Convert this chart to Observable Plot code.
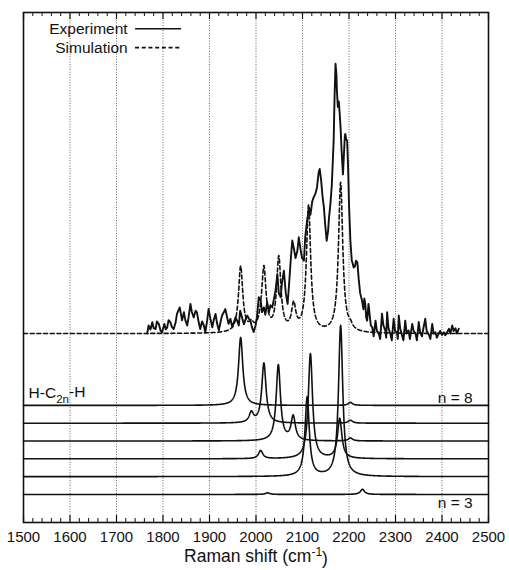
<!DOCTYPE html>
<html>
<head>
<meta charset="utf-8">
<script src="https://cdn.jsdelivr.net/npm/d3@7"></script>
<script src="https://cdn.jsdelivr.net/npm/@observablehq/plot@0.6"></script>
<style>
  html, body { margin: 0; padding: 0; background: #fff; }
  #chart svg { display: block; }
</style>
</head>
<body>
<div id="chart"></div>
<script>
// Raman shift axis (cm-1)
const xDomain = [1500, 2500];
const yDomain = [0, 189];
const majorTicks = d3.range(1500, 2501, 100);
const minorTicks = d3.range(1500, 2501, 20).filter(v => v % 100 !== 0);
const gridLines = d3.range(1600, 2401, 100);

// Baselines of the stacked traces (intensity units)
const spectrumOffset = 70;
const chainN = [8, 7, 6, 5, 4, 3];
const chainOffsets = [43.4, 36.8, 30.2, 23.6, 17.0, 10.4];

// Lorentzian half width at half maximum (cm-1)
const bandHalfWidth = 5.5;

// Measured spectrum: [Raman shift, intensity above baseline]
const experiment = [
  [1766, 0], [1769, 3.0], [1773, 1.5], [1777, 4.2], [1780, 2.0], [1784, 1.7], [1787, 4.5],
  [1791, 3.6], [1795, 1.0], [1798, 0.5], [1803, 3.6], [1806, 1.5], [1809, 2.3], [1812, 5.0],
  [1816, 4.2], [1819, 2.5], [1823, 1.7], [1827, 4.0], [1830, 7.3], [1836, 9.7], [1841, 4.9],
  [1845, 7.9], [1848, 5.0], [1852, 3.0], [1855, 6.0], [1859, 11.0], [1862, 8.0], [1866, 6.0],
  [1870, 8.5], [1873, 7.9], [1877, 4.0], [1880, 1.7], [1884, 4.5], [1888, 3.0], [1891, 0.5],
  [1895, 4.9], [1898, 9.1], [1902, 5.5], [1906, 2.3], [1909, 5.0], [1913, 7.3], [1916, 4.0],
  [1920, 1.2], [1924, 4.5], [1927, 6.7], [1931, 8.0], [1934, 9.1], [1938, 6.0], [1941, 3.6],
  [1945, 5.5], [1949, 2.3], [1952, 4.0], [1956, 6.0], [1960, 4.5], [1963, 3.0], [1966, 8.5],
  [1970, 6.0], [1974, 3.5], [1977, 5.0], [1981, 6.7], [1985, 5.5], [1988, 4.9], [1991, 2.5],
  [1995, 0.6], [1999, 3.0], [2002, 6.0], [2006, 13.5], [2010, 12.3], [2013, 8.0], [2017, 9.7],
  [2020, 7.0], [2024, 11.6], [2028, 8.0], [2031, 10.5], [2035, 9.7], [2038, 12.3], [2042, 16],
  [2046, 22], [2049, 15], [2053, 13.5], [2056, 19], [2060, 23.3], [2064, 15], [2068, 11],
  [2071, 18], [2075, 28], [2078, 34.5], [2082, 31], [2085, 28], [2089, 30.7], [2092, 35.7],
  [2096, 31], [2099, 28], [2103, 27], [2106, 36], [2110, 42], [2114, 46.8], [2117, 44],
  [2121, 49], [2124, 50.5], [2128, 52], [2131, 54], [2135, 60], [2137, 61], [2140, 57],
  [2143, 51], [2146, 46.8], [2149, 40], [2152, 34.4], [2155, 38], [2157, 43], [2160, 48],
  [2163, 55], [2167, 71.5], [2169, 88], [2171, 100], [2173, 96], [2174, 90], [2176, 84],
  [2178, 86], [2180, 81.5], [2182, 76], [2184, 68], [2187, 59], [2189, 66], [2191, 73],
  [2192, 74], [2194, 72], [2196, 71.5], [2198, 62], [2200, 48], [2203, 34.4], [2206, 27],
  [2208, 26], [2210, 24.5], [2213, 25], [2215, 27], [2218, 26.4], [2221, 20], [2224, 15],
  [2228, 12.3], [2231, 9], [2233, 13], [2235, 11], [2237, 6], [2239, 4.8], [2242, 11],
  [2245, 6], [2247, 3], [2250, 2.3], [2253, -1], [2257, 4.8], [2260, 1], [2264, 0],
  [2267, -2], [2271, 7.4], [2274, 3], [2278, 1.2], [2280, -1.5], [2282, 7.9], [2285, 2],
  [2289, -0.2], [2292, -2.5], [2296, 5.5], [2299, 1], [2303, 0.5], [2305, -2], [2307, 6.7],
  [2310, 2], [2314, -0.6], [2317, -2.5], [2321, 4.8], [2324, 0], [2328, 1.2], [2331, -2],
  [2336, 3.6], [2339, 1], [2343, 0], [2346, -2.5], [2350, 4.3], [2353, 0.5], [2357, -1],
  [2360, 2], [2364, 5.5], [2367, 1], [2372, -0.5], [2375, -2], [2379, 3.6], [2382, 0],
  [2386, 0.5], [2389, -1.5], [2393, 0], [2396, 1], [2400, -0.5], [2404, 0.5], [2407, -0.6],
  [2411, 0.5], [2415, 1.8], [2418, 0], [2422, 3], [2425, 1], [2429, 2], [2432, 0], [2436, 1.8]
];

// Simulated spectrum bands: [center, height]
const simulationBands = [
  [1967, 24.4], [1990, 2.5], [2010, 1.5], [2017, 23.2], [2049, 27.4],
  [2081, 9.6], [2113, 46.7], [2182, 55.6], [2203, 1.5]
];

// Computed bands of the individual H-C2n-H chains: [center, height]
const bandsN8 = [[1967, 25.2], [2203, 1.1]];
const bandsN7 = [[1990, 3.7], [2017, 22.2], [2203, 1.1]];
const bandsN6 = [[2048, 28.1], [2080, 8.9], [2203, 1.1]];
const bandsN5 = [[2010, 3.0], [2117, 38.9], [2180, 14.8]];
const bandsN4 = [[2110, 29.3], [2182, 55.9]];
const bandsN3 = [[2025, 0.6], [2229, 1.9]];
const chainBands = [bandsN8, bandsN7, bandsN6, bandsN5, bandsN4, bandsN3];

// Lorentzian line shape sampled across the axis
const grid = d3.range(xDomain[0], xDomain[1] + 0.25, 0.5);
const g2 = bandHalfWidth * bandHalfWidth;
function lorentzSum(bands, x) {
  let s = 0;
  for (const [c, h] of bands) s += h * g2 / ((x - c) * (x - c) + g2);
  return s;
}

const simulation = grid.map(x => ({x, y: spectrumOffset + lorentzSum(simulationBands, x)}));
const chains = chainN.flatMap((n, i) =>
  grid.map(x => ({n, x, y: chainOffsets[i] + lorentzSum(chainBands[i], x)}))
);
const measured = experiment.map(([x, v]) => ({x, y: spectrumOffset + v}));

const ink = "#111";
const font = "'Liberation Sans', Arial, Helvetica, sans-serif";

const chart = Plot.plot({
  width: 509,
  height: 570,
  marginLeft: 23,
  marginRight: 21,
  marginTop: 12,
  marginBottom: 48,
  x: {domain: xDomain},
  y: {domain: yDomain, axis: null},
  style: {fontFamily: font, background: "#fff", color: ink},
  marks: [
    // dotted vertical grid
    Plot.ruleX(gridLines, {x: d => d, stroke: "#666", strokeWidth: 1, strokeDasharray: "1,1.6"}),

    // stacked chain spectra
    Plot.line(chains, {x: "x", y: "y", z: "n", stroke: ink, strokeWidth: 1.6}),

    // simulated and measured spectra
    Plot.line(simulation, {x: "x", y: "y", stroke: ink, strokeWidth: 1.6, strokeDasharray: "4,2.7"}),
    Plot.line(measured, {x: "x", y: "y", stroke: ink, strokeWidth: 1.9, strokeLinejoin: "round"}),

    // inward ticks, bottom and top
    Plot.ruleX(majorTicks, {x: d => d, insetTop: 503, stroke: ink, strokeWidth: 1.2}),
    Plot.ruleX(majorTicks, {x: d => d, insetBottom: 503, stroke: ink, strokeWidth: 1.2}),
    Plot.ruleX(minorTicks, {x: d => d, insetTop: 506, stroke: ink, strokeWidth: 1}),
    Plot.ruleX(minorTicks, {x: d => d, insetBottom: 506, stroke: ink, strokeWidth: 1}),

    Plot.frame({stroke: ink, strokeWidth: 1.6}),

    Plot.axisX(majorTicks, {tickSize: 0, tickPadding: 9, fontSize: 15, label: null, fill: ink, tickFormat: d => String(d)}),
    Plot.text(["Raman shift (cm-1)"], {x: 2000, frameAnchor: "bottom", dy: 39, fontSize: 17.5, fill: ink}),

    // legend
    Plot.text(["Experiment"], {x: 1724, y: 183, textAnchor: "end", fontSize: 15.5, fill: ink}),
    Plot.text(["Simulation"], {x: 1724, y: 176, textAnchor: "end", fontSize: 15.5, fill: ink}),
    Plot.ruleY([183], {y: d => d, x1: 1741, x2: 1840, stroke: ink, strokeWidth: 1.6}),
    Plot.ruleY([176], {y: d => d, x1: 1741, x2: 1840, stroke: ink, strokeWidth: 1.6, strokeDasharray: "4,2.7"}),

    // chain labels
    Plot.text(["H-C2n-H"], {x: 1511, y: 47.8, textAnchor: "start", fontSize: 15.5, fill: ink}),
    Plot.text(["n = 8"], {x: 2466, y: 46.3, textAnchor: "end", fontSize: 15.5, fill: ink}),
    Plot.text(["n = 3"], {x: 2466, y: 7.2, textAnchor: "end", fontSize: 15.5, fill: ink})
  ]
});

// subscript / superscript formatting
d3.select(chart).selectAll("text").each(function () {
  const t = d3.select(this);
  if (this.textContent === "H-C2n-H") {
    t.text(null);
    t.append("tspan").text("H-C");
    t.append("tspan").attr("dy", "0.35em").attr("font-size", "11.5").text("2n");
    t.append("tspan").attr("dy", "-0.35em").text("-H");
  } else if (this.textContent === "Raman shift (cm-1)") {
    t.text(null);
    t.append("tspan").text("Raman shift (cm");
    t.append("tspan").attr("dy", "-0.45em").attr("font-size", "12").text("-1");
    t.append("tspan").attr("dy", "0.45em").text(")");
  }
});

document.getElementById("chart").append(chart);
</script>
</body>
</html>
